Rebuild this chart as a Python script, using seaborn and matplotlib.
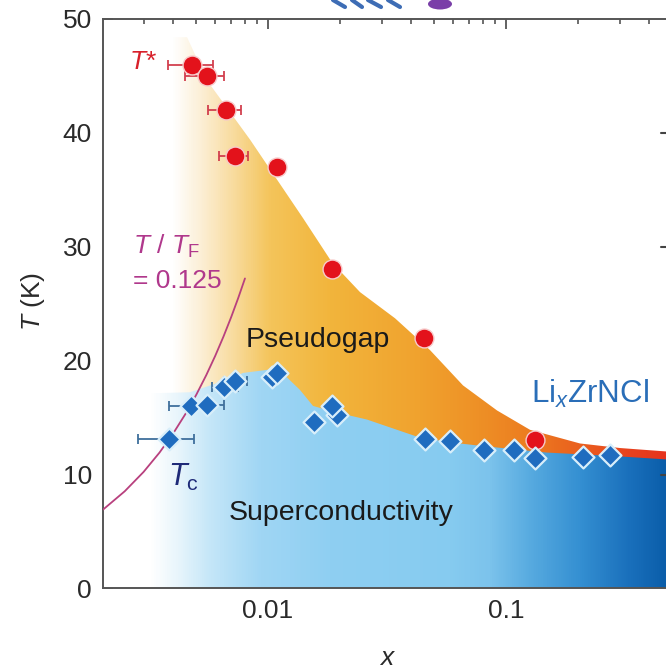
import numpy as np
import pandas as pd
import matplotlib
matplotlib.use("Agg")
import matplotlib.pyplot as plt
import seaborn as sns
from matplotlib.colors import LinearSegmentedColormap
from matplotlib.ticker import FixedLocator, NullFormatter
from matplotlib.lines import Line2D
from matplotlib.patches import Ellipse

nan = np.nan

# Pseudogap onset T* (red circles) with horizontal doping uncertainty
tstar_x = [0.0048, 0.00555, 0.00666, 0.00726, 0.0109, 0.0186, 0.0452, 0.1325]
tstar_T = [46.0, 45.0, 42.0, 38.0, 37.0, 28.0, 22.0, 13.0]
tstar_xlo = [0.0038, 0.00448, 0.0056, 0.00622, nan, nan, nan, nan]
tstar_xhi = [0.00588, 0.00653, 0.0077, 0.00824, nan, nan, nan, nan]

# Superconducting Tc (blue diamonds)
tc_x = [0.00385, 0.00473, 0.00552, 0.00653, 0.00726, 0.0104, 0.0109, 0.01567,
        0.0194, 0.0185, 0.0457, 0.0582, 0.081, 0.1075, 0.1325, 0.211, 0.273]
tc_T = [13.1, 16.0, 16.1, 17.7, 18.2, 18.5, 18.9, 14.6,
        15.2, 16.0, 13.1, 12.9, 12.1, 12.1, 11.4, 11.5, 11.7]
tc_xlo = [0.00284, 0.00385, 0.0046, 0.0058, 0.0065, nan, nan, nan,
          nan, nan, nan, nan, nan, nan, nan, nan, nan]
tc_xhi = [0.00489, 0.0058, 0.00653, 0.0075, 0.00814, nan, nan, nan,
          nan, nan, nan, nan, nan, nan, nan, nan, nan]

# Phase boundaries (upper edges of the shaded regions)
pg_edge_x = [0.002026, 0.004568, 0.005543, 0.008403, 0.01403, 0.01858, 0.02435,
             0.03417, 0.04795, 0.06596, 0.09167, 0.1261, 0.2046, 0.3013, 0.4699, 0.6]
pg_edge_T = [48.4, 48.4, 44.6, 39.4, 32.5, 28.6, 26.0,
             23.7, 20.9, 17.8, 15.6, 13.9, 12.7, 12.3, 12.0, 11.9]
sc_edge_x = [0.002026, 0.004702, 0.006725, 0.007852, 0.0102, 0.01202, 0.01363,
             0.01545, 0.01875, 0.02606, 0.04227, 0.05816, 0.07776, 0.1487,
             0.2816, 0.4699, 0.6]
sc_edge_T = [17.0, 17.2, 18.3, 18.9, 19.2, 18.5, 17.4,
             16.0, 15.5, 14.8, 13.3, 12.8, 12.5, 11.9,
             11.6, 11.3, 11.2]

# T / T_F = 0.125 line
tf_x = [0.00203, 0.0025, 0.003, 0.0035, 0.004, 0.0045, 0.005, 0.0055,
        0.006, 0.0065, 0.007, 0.0075, 0.008]
tf_T = [6.9, 8.5, 10.2, 11.9, 13.6, 15.3, 17.0, 18.7,
        20.4, 22.1, 23.8, 25.5, 27.2]

x_ticks = [0.01, 0.1]
x_tick_labels = ["0.01", "0.1"]
y_ticks = [0, 10, 20, 30, 40, 50]

sns.set_style("ticks")
plt.rcParams["font.family"] = ["Liberation Sans", "DejaVu Sans"]
plt.rcParams["mathtext.fontset"] = "custom"
plt.rcParams["mathtext.rm"] = "Liberation Sans"
plt.rcParams["mathtext.it"] = "Liberation Sans:italic"
plt.rcParams["mathtext.bf"] = "Liberation Sans:bold"

W, H = 666, 670
fig = plt.figure(figsize=(W / 100, H / 100), dpi=100)
ax = fig.add_axes([103 / W, (H - 588) / H, (W - 103) / W, (588 - 19) / H])
ax.set_xscale("log")
XMIN, XMAX = 0.002026, 0.4699
ax.set_xlim(XMIN, XMAX)
ax.set_ylim(0, 50)
ax.set_autoscale_on(False)


def gradient_region(xs, ys, stops, z):
    poly = ax.fill_between(xs, 0, ys, color="none", lw=0, zorder=z)
    cmap = LinearSegmentedColormap.from_list("grad", stops)
    grad = np.linspace(0, 1, 800)[None, :]
    img = ax.imshow(grad, cmap=cmap, aspect="auto", extent=(0, 1, 0, 1),
                    transform=ax.transAxes, zorder=z, interpolation="bilinear")
    img.set_clip_path(poly.get_paths()[0], poly.get_transform())


def fpx(px):
    return (px - 103) / (W - 103)


orange_stops = [
    (0.0, "#ffffff"), (fpx(172), "#ffffff"), (fpx(200), "#fcefd6"),
    (fpx(235), "#f8da9a"), (fpx(270), "#f4c45a"), (fpx(330), "#f2b53c"),
    (fpx(420), "#f0a22e"), (fpx(480), "#ee9026"), (fpx(530), "#ec7c20"),
    (fpx(580), "#ea601e"), (fpx(630), "#e8421e"), (1.0, "#e6341e"),
]
blue_stops = [
    (0.0, "#ffffff"), (fpx(150), "#ffffff"), (fpx(175), "#eaf6fc"),
    (fpx(210), "#c4e6f8"), (fpx(260), "#a0d6f4"), (fpx(330), "#8fcff2"),
    (fpx(450), "#86cbf0"), (fpx(490), "#7cc3ec"), (fpx(530), "#58abe0"),
    (fpx(580), "#3590d2"), (fpx(630), "#1a70bc"), (1.0, "#0b5eaa"),
]
gradient_region(pg_edge_x, pg_edge_T, orange_stops, 1)
gradient_region(sc_edge_x, sc_edge_T, blue_stops, 2)

# T/T_F line
sns.lineplot(x=tf_x, y=tf_T, ax=ax, color="#b8407e", lw=1.3, zorder=3,
             sort=False, estimator=None)

# Error bars
ts = pd.DataFrame({"x": tstar_x, "T": tstar_T, "lo": tstar_xlo, "hi": tstar_xhi})
tc = pd.DataFrame({"x": tc_x, "T": tc_T, "lo": tc_xlo, "hi": tc_xhi})
for df, col in [(ts, "#d2404e"), (tc, "#3f6f9c")]:
    e = df.dropna()
    ax.errorbar(e["x"], e["T"], xerr=[e["x"] - e["lo"], e["hi"] - e["x"]],
                fmt="none", ecolor=col, elinewidth=1.3, capsize=3.5,
                capthick=1.3, zorder=4)

sns.scatterplot(data=ts, x="x", y="T", ax=ax, marker="o", s=185,
                color="#e3121b", edgecolor="#f7caca", linewidth=1.0,
                zorder=5, legend=False)
sns.scatterplot(data=tc, x="x", y="T", ax=ax, marker="D", s=125,
                color="#1f6cbf", edgecolor="#d8eefa", linewidth=1.6,
                zorder=6, legend=False)

# Spines and ticks
for side in ["left", "bottom", "top"]:
    ax.spines[side].set_color("#555555")
    ax.spines[side].set_linewidth(1.4)
ax.spines["right"].set_visible(False)
ax.xaxis.set_major_locator(FixedLocator(x_ticks))
ax.set_xticklabels(x_tick_labels)
minor = [m * 10.0 ** d for d in (-3, -2, -1) for m in range(2, 10)]
ax.xaxis.set_minor_locator(FixedLocator(minor))
ax.xaxis.set_minor_formatter(NullFormatter())
ax.set_yticks(y_ticks)
ax.tick_params(axis="both", which="major", direction="in", length=7, width=1.3,
               color="#555555", labelsize=19, labelcolor="#2a2a2a", pad=8)
ax.tick_params(axis="x", which="minor", direction="in", length=3.5, width=1.2,
               color="#555555")
ax.tick_params(axis="x", which="both", top=True, bottom=True)
ax.tick_params(axis="y", which="both", left=True, right=False)

ax.set_xlabel(r"$x$", fontsize=19, color="#2a2a2a")
ax.set_ylabel(r"$T$ (K)", fontsize=19, color="#2a2a2a")
ax.xaxis.set_label_coords(fpx(388), (588 - 646) / (588 - 19))
ax.yaxis.set_label_coords((47 - 103) / (W - 103), (588 - 301) / (588 - 19))

# Annotations
ax.text(0.002984, 46.2, r"$T$*", color="#d8202a", fontsize=19,
        ha="center", va="center", zorder=7)
ax.text(0.00271, 29.4, r"$T$ / $T_{\mathrm{F}}$", color="#b0388c", fontsize=19,
        ha="left", va="baseline", zorder=7)
ax.text(0.00271, 26.4, "= 0.125", color="#b0388c", fontsize=19,
        ha="left", va="baseline", zorder=7)
ax.text(0.01622, 21.2, "Pseudogap", color="#1a1a1a", fontsize=20.5,
        ha="center", va="baseline", zorder=7)
ax.text(0.0203, 6.0, "Superconductivity", color="#1a1a1a", fontsize=20.5,
        ha="center", va="baseline", zorder=7)
ax.text(0.2254, 16.3, r"Li$_{x}$ZrNCl", color="#2a6eb8", fontsize=22.5,
        ha="center", va="baseline", zorder=7)
ax.text(0.0038, 9.0, r"$T_{\mathrm{c}}$", color="#1e2a78", fontsize=22,
        ha="left", va="baseline", zorder=7)

# Edge marks of the neighbouring panel
for py in (133, 247, 475):
    fig.add_artist(Line2D([661 / W, 1.0], [1 - py / H] * 2,
                          transform=fig.transFigure, color="#444444", lw=1.5))
fig.add_artist(Ellipse((440 / W, 1 - 4 / H), 24 / W, 11 / H,
                       transform=fig.transFigure, color="#7a3fa8", lw=0))
for x0, x1 in [(333, 345), (352, 362), (368, 381), (388, 400)]:
    fig.add_artist(Line2D([x0 / W, x1 / W], [1 - 0 / H, 1 - 7 / H],
                          transform=fig.transFigure, color="#3e6db5", lw=3))

fig.savefig("out.png", dpi=100)
